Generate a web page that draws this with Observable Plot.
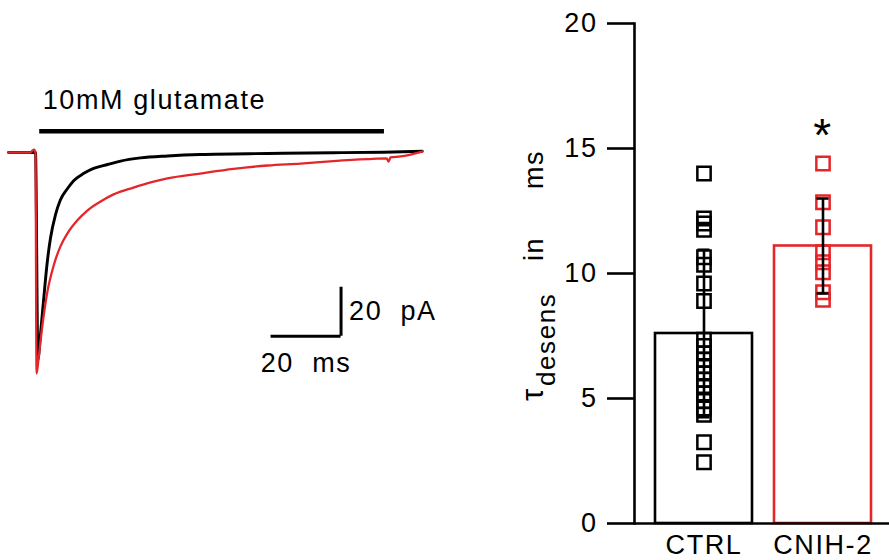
<!DOCTYPE html>
<html>
<head>
<meta charset="utf-8">
<script src="https://cdn.jsdelivr.net/npm/d3@7"></script>
<script src="https://cdn.jsdelivr.net/npm/@observablehq/plot@0.6"></script>
<style>
  html, body { margin: 0; padding: 0; background: #fff; }
  #figure { position: relative; width: 889px; height: 560px; overflow: hidden; background: #fff; }
  #figure svg { position: absolute; top: 0; }
  #figure text { white-space: pre; }
</style>
</head>
<body>
<div id="figure"></div>
<script>
// ---- Panel A: currents evoked by 10 mM glutamate (time in ms, current in pA)
const ctrlTraceT = [-7.7, -1.4, 0, 0.7, 1.4, 2.4, 3.3, 4.3, 5.7, 7.1, 9.1, 10.9, 13.7, 16.6, 20.6, 24.3, 30.0, 37.7, 47.1, 66.3, 85.1, 99.4, 110.5];
const ctrlTraceI = [0, 0, 0, -84.5, -74.5, -58.8, -45.5, -34.8, -25.5, -19.4, -14.8, -11.5, -8.6, -6.5, -4.9, -3.5, -2.2, -1.4, -0.8, -0.4, -0.1, 0.1, 0.5];
const cnihTraceT = [-7.7, -1.4, -0.9, -0.4, 0, 0.3, 0.9, 1.9, 3.3, 5.2, 7.1, 9.1, 11.9, 14.8, 18.6, 22.3, 28.0, 32.9, 37.7, 47.1, 56.6, 66.3, 75.7, 85.1, 94.9, 100.3, 100.9, 101.4, 104.3, 110.5];
const cnihTraceI = [0, 0, 0.8, 1.2, 0, -90.2, -83.7, -71.4, -57.6, -46.1, -38.4, -33.1, -27.8, -23.7, -20.0, -17.1, -14.3, -12.2, -10.6, -8.6, -6.7, -5.3, -4.5, -3.5, -2.7, -2.4, -3.7, -2.0, -1.6, 0.4];

// glutamate application window (ms) and the level the bar is drawn at (pA)
const stimStart = 1.2;
const stimEnd = 99.7;
const stimLevel = 8.7;
const stimLabel = "10mM glutamate";

// scale bar: 20 ms x 20 pA, corner at (87.3 ms, -75 pA)
const scaleMs = 20;
const scalePA = 20;
const scaleCornerT = 87.3;
const scaleCornerI = -75;

// ---- Panel B: desensitization time constants (ms)
const groups = ["CTRL", "CNIH-2"];
const ctrlTau = [14.0, 12.2, 12.0, 11.75, 10.65, 10.35, 9.6, 8.9, 7.35, 7.1, 6.8, 6.55, 6.3, 6.0, 5.75, 5.5, 5.2, 4.9, 4.6, 4.35, 3.25, 2.45];
const cnihTau = [14.4, 12.85, 11.85, 10.85, 10.45, 10.05, 9.25, 8.95];
const meanTau = [7.6, 11.1];
const sdTau = [3.35, 1.9];
const yTicks = [0, 5, 10, 15, 20];
const significant = ["CNIH-2"];

const RED = "#e4262b";
const FONT = '"Liberation Sans", Arial, Helvetica, sans-serif';
const baseStyle = {
  fontFamily: FONT,
  fontSize: "27px",
  letterSpacing: "1.6px",
  background: "white",
  overflow: "visible",
  color: "black"
};

const toRows = (T, I, cond) => T.map((t, i) => ({t, pA: I[i], cond}));
const ctrlTrace = toRows(ctrlTraceT, ctrlTraceI, "CTRL");
const cnihTrace = toRows(cnihTraceT, cnihTraceI, "CNIH-2");
const stim = [{start: stimStart, end: stimEnd, level: stimLevel, label: stimLabel}];
const scaleBar = [{t0: scaleCornerT, i0: scaleCornerI, ms: scaleMs, pA: scalePA}];

const left = Plot.plot({
  width: 450,
  height: 560,
  margin: 0,
  x: {domain: [-10, 118.571], axis: null},
  y: {domain: [-166.531, 62.041], axis: null},
  style: baseStyle,
  marks: [
    Plot.ruleY(stim, {x1: "start", x2: "end", y: "level", stroke: "black", strokeWidth: 4.5}),
    Plot.text(stim, {x: "start", y: "level", text: "label", textAnchor: "start", lineAnchor: "middle", dx: 3, dy: -31.3}),
    Plot.line(ctrlTrace, {x: "t", y: "pA", stroke: "black", strokeWidth: 2.9, curve: "monotone-x"}),
    Plot.line(cnihTrace, {x: "t", y: "pA", stroke: RED, strokeWidth: 2.3, curve: "monotone-x"}),
    Plot.ruleY(scaleBar, {x1: d => d.t0 - d.ms, x2: "t0", y: "i0", stroke: "black", strokeWidth: 3}),
    Plot.ruleX(scaleBar, {x: "t0", y1: "i0", y2: d => d.i0 + d.pA, stroke: "black", strokeWidth: 3}),
    Plot.text(scaleBar, {x: "t0", y: d => d.i0 + d.pA / 2, text: d => `${d.pA}  pA`, textAnchor: "start", lineAnchor: "middle", dx: 8}),
    Plot.text(scaleBar, {x: d => d.t0 - d.ms / 2, y: "i0", text: d => `${d.ms}  ms`, textAnchor: "middle", lineAnchor: "top", dy: 16.8})
  ]
});
left.style.left = "0px";

const points = [
  ...ctrlTau.map(v => ({group: "CTRL", tau: v})),
  ...cnihTau.map(v => ({group: "CNIH-2", tau: v}))
];
const summary = groups.map((g, i) => ({group: g, mean: meanTau[i], lo: meanTau[i] - sdTau[i], hi: meanTau[i] + sdTau[i]}));
const stars = significant.map(g => ({group: g, top: d3.max(points.filter(p => p.group === g), p => p.tau), mark: "*"}));

const right = Plot.plot({
  width: 439,
  height: 560,
  marginLeft: 184,
  marginRight: 0,
  marginTop: 23,
  marginBottom: 37,
  style: baseStyle,
  x: {domain: groups, range: [184, 442], paddingInner: 0.185, paddingOuter: 0.176},
  y: {domain: [0, 20]},
  color: {domain: groups, range: ["black", RED]},
  marks: [
    Plot.barY(summary, {x: "group", y: "mean", fill: "white", stroke: "group", strokeWidth: 2.6}),
    Plot.dot(points, {x: "group", y: "tau", symbol: "square", r: 7.5, stroke: "group", fill: "none", strokeWidth: 2.5}),
    Plot.ruleX(summary, {x: "group", y1: "lo", y2: "hi", stroke: "black", strokeWidth: 2.6}),
    Plot.tickY(summary, {x: "group", y: "lo", insetLeft: 42.5, insetRight: 42.5, stroke: "black", strokeWidth: 2.6}),
    Plot.tickY(summary, {x: "group", y: "hi", insetLeft: 42.5, insetRight: 42.5, stroke: "black", strokeWidth: 2.6}),
    Plot.text(stars, {x: "group", y: "top", text: "mark", fontSize: 46, lineAnchor: "middle", dy: -27}),
    Plot.ruleY([0], {stroke: "black", strokeWidth: 2.6}),
    Plot.frame({anchor: "left", stroke: "black", strokeWidth: 2.6}),
    Plot.axisY({ticks: yTicks, tickSize: 27, tickPadding: 10, strokeWidth: 2.6, stroke: "black", label: null, tickFormat: d => String(d)}),
    Plot.axisX({tickSize: 0, tickPadding: 11, label: null})
  ]
});
right.style.left = "450px";

// rotated y-axis title: τ with subscript "desens", then "in ms"
const ylab = [
  {text: "\u03c4", x: 93, y: 401, size: 31},
  {text: "desens", x: 105, y: 386, size: 26},
  {text: "in", x: 93, y: 261, size: 27},
  {text: "ms", x: 93, y: 189, size: 27}
];
d3.select(right).append("g")
  .attr("fill", "black")
  .selectAll("text")
  .data(ylab)
  .join("text")
  .attr("transform", d => `translate(${d.x},${d.y}) rotate(-90)`)
  .attr("font-size", d => d.size)
  .attr("text-anchor", "start")
  .text(d => d.text);

const fig = document.getElementById("figure");
fig.append(left, right);
</script>
</body>
</html>
